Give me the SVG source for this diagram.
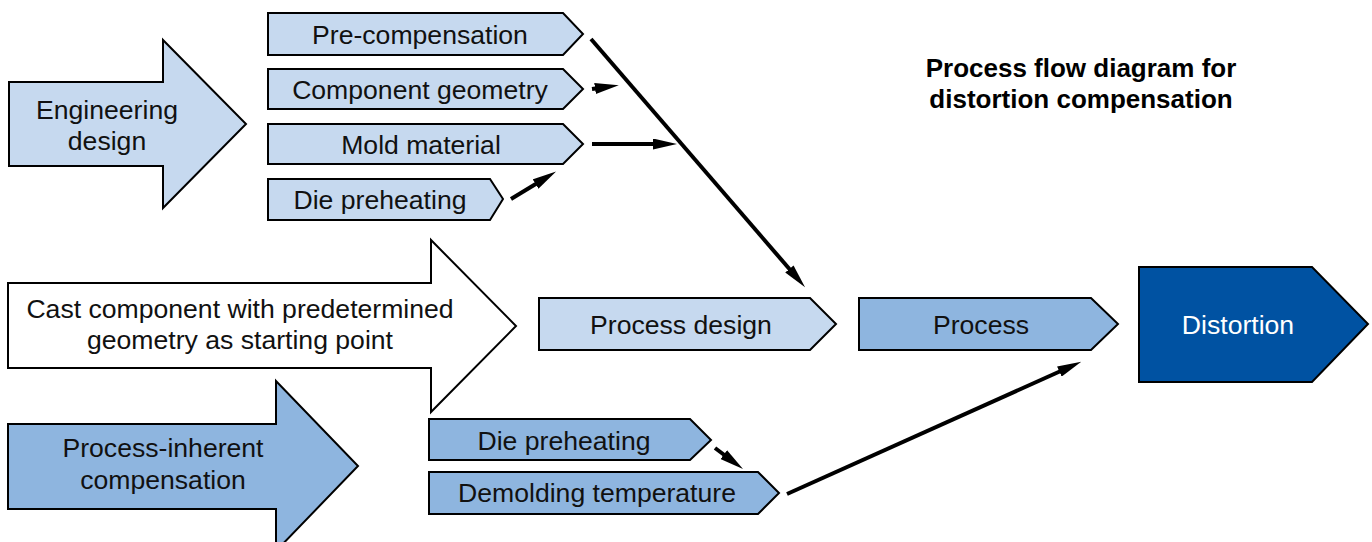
<svg xmlns="http://www.w3.org/2000/svg" width="1372" height="542" viewBox="0 0 1372 542">
  <style>
    .shape { stroke: #000; stroke-width: 2; stroke-linejoin: miter; }
    .light { fill: #C6D9EF; }
    .mid { fill: #8EB5DF; }
    .dark { fill: #0052A2; }
    .blank { fill: #FFFFFF; }
    text { font-family: "Liberation Sans", Arial, sans-serif; font-size: 26.6px; fill: #111; text-anchor: middle; }
    .inv { fill: #FFFFFF; }
    .title { font-weight: bold; fill: #000; font-size: 26px; }
    .conn line { stroke: #000; stroke-width: 4; fill: none; marker-end: url(#head); }
  </style>
  <defs>
    <marker id="head" markerUnits="userSpaceOnUse" markerWidth="24" markerHeight="11" viewBox="0 0 24 11" refX="4" refY="5.5" orient="auto">
      <path d="M0,0 L24,5.5 L0,11 z" fill="#000"/>
    </marker>
  </defs>

  <!-- big input arrows -->
  <g id="engineering-design">
    <polygon class="shape light" points="9,82 163,82 163,40 246,124 163,208 163,166 9,166"/>
    <text x="107" y="119">Engineering</text>
    <text x="107" y="150">design</text>
  </g>
  <g id="cast-component">
    <polygon class="shape blank" points="8,283 431,283 431,240 516,326 431,412 431,368 8,368"/>
    <text x="240" y="318">Cast component with predetermined</text>
    <text x="240" y="349">geometry as starting point</text>
  </g>
  <g id="process-inherent">
    <polygon class="shape mid" points="8,424 276,424 276,381 358,466 276,551 276,509 8,509"/>
    <text x="163" y="457">Process-inherent</text>
    <text x="163" y="489">compensation</text>
  </g>

  <!-- engineering design factors -->
  <g id="pre-compensation">
    <polygon class="shape light" points="268,13 563,13 583,34 563,55 268,55"/>
    <text x="420" y="44">Pre-compensation</text>
  </g>
  <g id="component-geometry">
    <polygon class="shape light" points="268,69 563,69 583,89 563,109 268,109"/>
    <text x="420" y="99">Component geometry</text>
  </g>
  <g id="mold-material">
    <polygon class="shape light" points="268,124 563,124 583,144 563,164 268,164"/>
    <text x="421" y="154">Mold material</text>
  </g>
  <g id="die-preheating-design">
    <polygon class="shape light" points="268,179 490,179 503,199 490,220 268,220"/>
    <text x="380" y="209">Die preheating</text>
  </g>

  <!-- process-inherent factors -->
  <g id="die-preheating-process">
    <polygon class="shape mid" points="429,419 690,419 711,440 690,460 429,460"/>
    <text x="564" y="450">Die preheating</text>
  </g>
  <g id="demolding-temperature">
    <polygon class="shape mid" points="429,472 758,472 779,493 758,514 429,514"/>
    <text x="597" y="502">Demolding temperature</text>
  </g>

  <!-- main chain -->
  <g id="process-design">
    <polygon class="shape light" points="539,298 810,298 836,324 810,350 539,350"/>
    <text x="681" y="334">Process design</text>
  </g>
  <g id="process">
    <polygon class="shape mid" points="859,298 1091,298 1118,324 1091,350 859,350"/>
    <text x="981" y="334">Process</text>
  </g>
  <g id="distortion">
    <polygon class="shape dark" points="1139,267 1312,267 1368,324 1312,382 1139,382"/>
    <text class="inv" x="1238" y="334">Distortion</text>
  </g>

  <g id="title">
    <text class="title" x="1081" y="77">Process flow diagram for</text>
    <text class="title" x="1081" y="108">distortion compensation</text>
  </g>

  <!-- connectors -->
  <g class="conn" id="connectors">
    <line x1="591" y1="39" x2="792" y2="272"/>
    <line x1="592" y1="89" x2="599" y2="88"/>
    <line x1="592" y1="144" x2="657" y2="144"/>
    <line x1="511" y1="199" x2="539" y2="182"/>
    <line x1="715" y1="448" x2="727" y2="457"/>
    <line x1="787" y1="494" x2="1063" y2="370"/>
  </g>
</svg>
